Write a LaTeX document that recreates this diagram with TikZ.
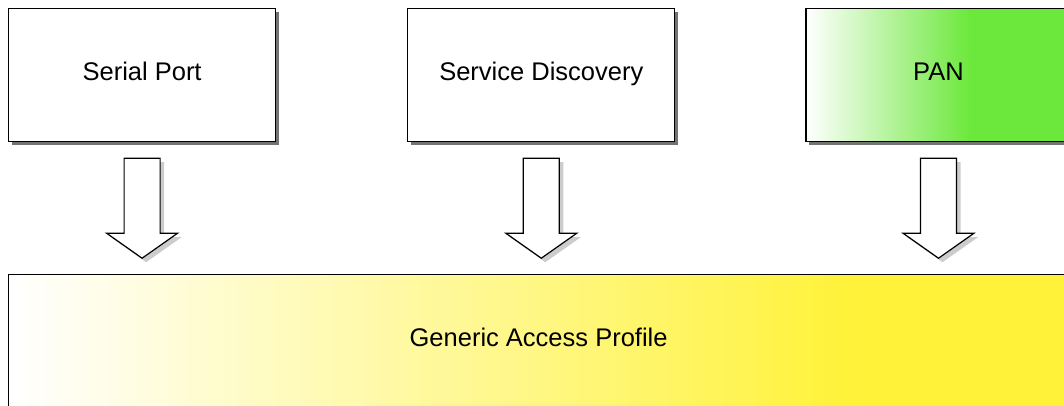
\documentclass[tikz,border=0pt]{standalone}
\usepackage{fontspec}
\setmainfont{Liberation Sans}
\usepackage{tikz}
\usetikzlibrary{shadows, positioning, calc}

\definecolor{pangreen}{RGB}{108,232,60}
\definecolor{gapyellow}{RGB}{255,242,56}
\pgfdeclarehorizontalshading{panfade}{100bp}{color(0bp)=(white); color(25bp)=(white); color(56bp)=(pangreen); color(100bp)=(pangreen)}
\pgfdeclarehorizontalshading{gapfade}{100bp}{color(0bp)=(white); color(25bp)=(white); color(65bp)=(gapyellow); color(100bp)=(gapyellow)}

\begin{document}
\begin{tikzpicture}[x=1pt,y=1pt,node distance=131pt,
 every node/.style={font=\fontsize{25.5}{30}\selectfont},
 profile box/.style={rectangle,draw,line width=1.2pt,fill=white,
   minimum width=267pt,minimum height=133pt,text height=18pt,text depth=7pt,
   drop shadow={shadow xshift=3pt,shadow yshift=-3pt,fill=black,opacity=0.55}},
 block arrow/.style={draw,line width=1.2pt,fill=white,
   drop shadow={shadow xshift=4pt,shadow yshift=-4pt,fill=black,opacity=0.2}}]

  \path[use as bounding box,clip] (0,0) rectangle (1064,-405);

  \node[profile box,anchor=north west] (serial) at (8,-8) {Serial Port};
  \node[profile box] (sdp) [right=of serial] {Service Discovery};
  \node[profile box,shading=panfade,minimum width=265pt] (pan) [right=130pt of sdp] {PAN};
  \node[profile box,shading=gapfade,minimum width=1060pt] (gap)
    [below=132pt of serial.south west,anchor=north west] {Generic Access Profile};

  \foreach \s in {serial, sdp, pan} {
   \draw[block arrow] let \p1=(\s.south), \p2=(gap.north) in
     (\x1-18pt,\y1-16pt) -- (\x1+18pt,\y1-16pt) -- (\x1+18pt,\y2+41pt)
     -- (\x1+35.5pt,\y2+41pt) -- (\x1,\y2+16pt) -- (\x1-35.5pt,\y2+41pt)
     -- (\x1-18pt,\y2+41pt) -- cycle;}

\end{tikzpicture}
\end{document}
